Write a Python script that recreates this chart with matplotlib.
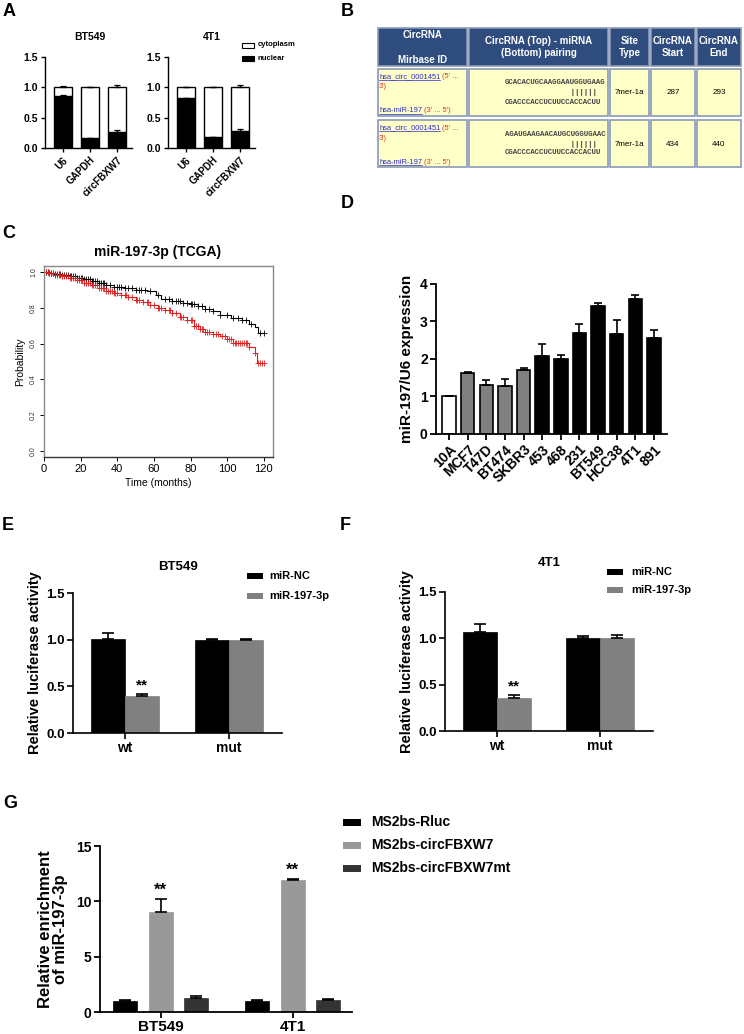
import numpy as np
import matplotlib
matplotlib.use('Agg')
import matplotlib.pyplot as plt
from matplotlib.patches import Rectangle

W, H = 744, 1034
plt.rcParams['font.family'] = ['Liberation Sans', 'DejaVu Sans']
plt.rcParams['font.weight'] = 'bold'
plt.rcParams['axes.linewidth'] = 1.2

# ---------------- data ----------------
# Panel A
A_categories = ['U6', 'GAPDH', 'circFBXW7']
A_bt549_nuclear = [0.85, 0.16, 0.26]
A_bt549_nuclear_err = [0.02, 0.01, 0.04]
A_bt549_total = [1.0, 1.0, 1.0]
A_bt549_total_err = [0.02, 0.01, 0.04]
A_4t1_nuclear = [0.82, 0.18, 0.28]
A_4t1_nuclear_err = [0.01, 0.005, 0.04]
A_4t1_total = [1.0, 1.0, 1.0]
A_4t1_total_err = [0.005, 0.005, 0.035]

# Panel B (table)
B_header = [['CircRNA', 'Mirbase ID'], ['CircRNA (Top) - miRNA', '(Bottom) pairing'],
            ['Site', 'Type'], ['CircRNA', 'Start'], ['CircRNA', 'End']]
B_circ_id = 'hsa_circ_0001451'
B_mirna_id = 'hsa-miR-197'
B_top_seq = ['GCACACUGCAAGGAAUGGUGAAG', 'AGAUGAAGAACAUGCUGGUGAAC']
B_pairs = [' ' * 15 + '||||||', ' ' * 15 + '||||||']
B_bottom_seq = ['CGACCCACCUCUUCCACCACUU', 'CGACCCACCUCUUCCACCACUU']
B_site_type = ['7mer-1a', '7mer-1a']
B_start = [287, 434]
B_end = [293, 440]

# Panel C (Kaplan-Meier)
C_low_time = [0, 3, 6, 10, 14, 18, 22, 26, 30, 34, 38, 44, 50, 56, 61, 64, 70, 76, 80, 84,
              88, 92, 96, 102, 108, 112, 115, 117]
C_low_surv = [1.0, 0.995, 0.99, 0.985, 0.975, 0.968, 0.96, 0.95, 0.94, 0.925, 0.915, 0.91,
              0.90, 0.895, 0.87, 0.85, 0.84, 0.825, 0.82, 0.81, 0.795, 0.78, 0.76, 0.745,
              0.73, 0.71, 0.69, 0.66]
C_low_censor = [1, 2, 3, 4, 5, 6, 7, 8, 9, 10, 11, 12, 13, 14, 15, 16, 17, 18, 19, 20, 21,
                22, 23, 24, 25, 26, 27, 28, 29, 30, 31, 32, 33, 34, 36, 38, 40, 41, 42, 44,
                46, 48, 50, 52, 53, 55, 58, 62, 66, 68, 70, 72, 73, 74, 76, 78, 80, 81, 82,
                84, 86, 88, 90, 92, 96, 100, 103, 106, 108, 110, 113, 118, 120]
C_high_time = [0, 3, 6, 10, 14, 18, 22, 26, 30, 34, 38, 42, 46, 50, 54, 58, 62, 66, 70, 74,
               78, 82, 85, 88, 92, 96, 100, 103, 112, 115, 116]
C_high_surv = [1.0, 0.993, 0.985, 0.975, 0.965, 0.955, 0.94, 0.925, 0.91, 0.895, 0.88, 0.87,
               0.86, 0.845, 0.83, 0.815, 0.80, 0.785, 0.77, 0.75, 0.73, 0.70, 0.68, 0.665,
               0.655, 0.645, 0.625, 0.605, 0.58, 0.55, 0.49]
C_high_censor = [1, 2, 3, 4, 5, 6, 7, 8, 9, 10, 11, 12, 13, 14, 15, 16, 17, 18, 19, 20, 21,
                 22, 23, 24, 25, 26, 27, 28, 29, 30, 31, 32, 33, 34, 35, 36, 37, 38, 39, 40,
                 42, 44, 45, 46, 48, 50, 51, 52, 54, 56, 57, 58, 60, 62, 63, 64, 66, 68, 69,
                 70, 72, 74, 75, 76, 78, 80, 81, 82, 83, 84, 85, 86, 87, 88, 89, 90, 92, 94,
                 95, 97, 99, 100, 101, 102, 103, 104, 105, 106, 107, 108, 109, 110, 111, 112,
                 115, 117, 118, 119, 120]
C_legend = ['low (n=439)', 'high (n=622)']

# Panel D
D_cells = ['10A', 'MCF7', 'T47D', 'BT474', 'SKBR3', '453', '468', '231', 'BT549', 'HCC38',
           '4T1', '891']
D_values = [1.0, 1.62, 1.30, 1.28, 1.70, 2.07, 2.00, 2.68, 3.40, 2.67, 3.60, 2.55]
D_err = [0.02, 0.02, 0.13, 0.18, 0.06, 0.33, 0.10, 0.25, 0.08, 0.36, 0.10, 0.22]
D_type = ['normal', 'luminal', 'luminal', 'luminal', 'luminal', 'tnbc', 'tnbc', 'tnbc',
          'tnbc', 'tnbc', 'tnbc', 'tnbc']

# Panels E / F
EF_groups = ['wt', 'mut']
EF_series = ['miR-NC', 'miR-197-3p']
E_nc = [1.01, 1.00]
E_nc_err = [0.06, 0.01]
E_mir = [0.40, 1.00]
E_mir_err = [0.02, 0.01]
F_nc = [1.07, 1.00]
F_nc_err = [0.08, 0.03]
F_mir = [0.36, 1.00]
F_mir_err = [0.03, 0.04]

# Panel G
G_groups = ['BT549', '4T1']
G_series = ['MS2bs-Rluc', 'MS2bs-circFBXW7', 'MS2bs-circFBXW7mt']
G_rluc = [1.0, 1.0]
G_rluc_err = [0.12, 0.07]
G_circ = [9.05, 11.9]
G_circ_err = [1.15, 0.15]
G_mt = [1.22, 1.05]
G_mt_err = [0.25, 0.15]

# ---------------- figure ----------------
fig = plt.figure(figsize=(W / 100, H / 100), dpi=100)
ov = fig.add_axes([0, 0, 1, 1], zorder=-1)
ov.set_xlim(0, W)
ov.set_ylim(H, 0)
ov.axis('off')


def axpx(x0, y0, x1, y1):
    return fig.add_axes([x0 / W, 1 - y1 / H, (x1 - x0) / W, (y1 - y0) / H])


def gp(ax, fs, lw=1.2, tl=4):
    ax.spines['top'].set_visible(False)
    ax.spines['right'].set_visible(False)
    ax.spines['left'].set_linewidth(lw)
    ax.spines['bottom'].set_linewidth(lw)
    ax.tick_params(width=lw, length=tl, labelsize=fs, pad=2)
    ax.patch.set_alpha(0)


def up_err(ax, x, top, err, cap=3, lw=1.0):
    ax.errorbar(x, top, yerr=[np.zeros(len(err)), err], fmt='none', ecolor='black',
                elinewidth=lw, capsize=cap, capthick=lw, zorder=3)


# panel letters
for lab, (x, y) in {'A': (9, 11), 'B': (347, 11), 'C': (9, 233), 'D': (347, 203),
                    'E': (8, 525), 'F': (345, 525), 'G': (10, 804)}.items():
    ov.text(x, y, lab, fontsize=13, fontweight='bold', ha='center', va='center')

# ---------------- Panel A ----------------
def panel_A(x0, nuc, nuc_err, tot, tot_err):
    ax = axpx(x0, 57, x0 + 87, 148)
    x = np.arange(len(A_categories))
    cyto = np.array(tot) - np.array(nuc)
    ax.bar(x, nuc, 0.67, color='black', edgecolor='black', lw=1)
    ax.bar(x, cyto, 0.67, bottom=nuc, color='white', edgecolor='black', lw=1)
    up_err(ax, x, nuc, nuc_err, cap=2.5, lw=0.9)
    up_err(ax, x, tot, tot_err, cap=2.5, lw=0.9)
    ax.set_xlim(-0.67, 2.55)
    ax.set_ylim(0, 1.5)
    ax.set_yticks([0, 0.5, 1.0, 1.5], ['0.0', '0.5', '1.0', '1.5'])
    ax.set_xticks(x, A_categories, rotation=45, ha='right', rotation_mode='anchor')
    gp(ax, 7.5, lw=1.0, tl=3)
    ax.tick_params(axis='x', labelsize=7)
    return ax


panel_A(45, A_bt549_nuclear, A_bt549_nuclear_err, A_bt549_total, A_bt549_total_err)
panel_A(168, A_4t1_nuclear, A_4t1_nuclear_err, A_4t1_total, A_4t1_total_err)
ov.text(90, 37, 'BT549', fontsize=7.5, fontweight='bold', ha='center', va='center')
ov.text(212, 37, '4T1', fontsize=7.5, fontweight='bold', ha='center', va='center')
ov.add_patch(Rectangle((242, 42.5), 12, 5, fc='white', ec='black', lw=0.8))
ov.add_patch(Rectangle((242, 55.5), 12, 5, fc='black', ec='black', lw=0.8))
ov.text(258, 45, 'cytoplasm', fontsize=5.5, fontweight='bold', va='center')
ov.text(258, 58, 'nuclear', fontsize=5.5, fontweight='bold', va='center')

# ---------------- Panel B (table) ----------------
tb_cols = [377, 468, 609, 650, 696, 742]
tb_rows = [(27, 67), (68, 117), (119, 168)]
hdr_col = '#2F4C7E'
cell_col = '#FFFFC8'
edge_col = '#8A9AB8'
for ri, (r0, r1) in enumerate(tb_rows):
    for ci in range(5):
        ov.add_patch(Rectangle((tb_cols[ci] + 1, r0 + 1), tb_cols[ci + 1] - tb_cols[ci] - 2,
                               r1 - r0 - 2, fc=hdr_col if ri == 0 else cell_col,
                               ec=edge_col, lw=1.2))
for ci, lines in enumerate(B_header):
    cx = (tb_cols[ci] + tb_cols[ci + 1]) / 2
    ys = (35, 60) if ci == 0 else (41, 53)
    for s, y in zip(lines, ys):
        ov.text(cx, y, s, color='white', fontsize=7, fontweight='bold', ha='center',
                va='center')

renderer = fig.canvas.get_renderer()


def link_text(x, y, s, red):
    t = ov.text(x, y, s, color='#2A2AC8', fontsize=5.4, fontweight='normal', va='center')
    bb = t.get_window_extent(renderer)
    x1 = bb.x1
    ov.plot([x, x1], [y + 3.2, y + 3.2], color='#2A2AC8', lw=0.5)
    ov.text(x1 + 2, y, red, color='#E03030', fontsize=5.4, fontweight='normal', va='center')


for i in range(2):
    r0 = tb_rows[i + 1][0]
    link_text(379, r0 + 9, B_circ_id, "(5' ...")
    ov.text(379, r0 + 19, "3')", color='#E03030', fontsize=5.4, fontweight='normal',
            va='center')
    link_text(379, r0 + 43, B_mirna_id, "(3' ... 5')")
    for s, dy in zip([B_top_seq[i], B_pairs[i], B_bottom_seq[i]], [15, 25, 34]):
        ov.text(505, r0 + dy, s, family='Liberation Mono', fontsize=5.35, color='#444444',
                fontweight='bold', va='center')
    mid = r0 + 25
    ov.text((tb_cols[2] + tb_cols[3]) / 2, mid, B_site_type[i], fontsize=5.8,
            fontweight='normal', ha='center', va='center')
    ov.text((tb_cols[3] + tb_cols[4]) / 2, mid, str(B_start[i]), fontsize=5.8,
            fontweight='normal', ha='center', va='center')
    ov.text((tb_cols[4] + tb_cols[5]) / 2, mid, str(B_end[i]), fontsize=5.8,
            fontweight='normal', ha='center', va='center')

# ---------------- Panel C (KM) ----------------
axC = axpx(44, 266, 273, 457)


def km(ax, times, surv, censor, color):
    times = np.asarray(times, float)
    surv = np.asarray(surv, float)
    tmax = max(censor)
    ax.step(np.r_[times, tmax], np.r_[surv, surv[-1]], where='post', color=color, lw=0.8)
    c = np.asarray(censor, float)
    idx = np.searchsorted(times, c, side='right') - 1
    ax.plot(c, surv[idx], '+', color=color, ms=4, mew=0.6)


km(axC, C_low_time, C_low_surv, C_low_censor, 'black')
km(axC, C_high_time, C_high_surv, C_high_censor, '#E41A1C')
axC.set_xlim(0, 125)
axC.set_ylim(-0.033, 1.033)
axC.set_xticks(np.arange(0, 121, 20))
axC.set_yticks(np.arange(0, 1.01, 0.2))
axC.set_yticklabels(['0.0', '0.2', '0.4', '0.6', '0.8', '1.0'], rotation=90, va='center',
                    fontsize=5, fontweight='normal', color='#333333')
for lbl in axC.get_xticklabels():
    lbl.set_fontweight('normal')
    lbl.set_fontsize(8)
for s in axC.spines.values():
    s.set_color('#888888')
    s.set_linewidth(1.0)
axC.spines['bottom'].set_color('#333333')
axC.tick_params(length=3, width=0.7, pad=2)
ov.text(158, 252, 'miR-197-3p (TCGA)', fontsize=10, fontweight='bold', ha='center',
        va='center')
ov.text(267, 277, 'HR = 1.56 (1.1 \u2212 2.23)', fontsize=6.3, fontweight='normal',
        ha='right', va='center')
ov.text(267, 288, 'logrank P = 0.013', fontsize=6.3, fontweight='normal', ha='right',
        va='center')
ov.text(67, 402, 'Expression', fontsize=6.5, fontweight='normal', va='center')
for lab, col, y in zip(C_legend, ['#555555', '#E41A1C'], [416, 430]):
    ov.plot([70, 88], [y, y], color=col, lw=0.8)
    ov.text(96, y, lab, fontsize=6.5, fontweight='normal', va='center')
ov.text(20, 362, 'Probability', fontsize=7.5, fontweight='normal', rotation=90,
        ha='center', va='center')
ov.text(158, 483, 'Time (months)', fontsize=7.5, fontweight='normal', ha='center',
        va='center')

# ---------------- Panel D ----------------
axD = axpx(436, 284, 667, 434)
xd = np.arange(len(D_cells))
dcol = {'normal': 'white', 'luminal': '#808080', 'tnbc': 'black'}
axD.bar(xd, D_values, 0.72, color=[dcol[t] for t in D_type], edgecolor='black', lw=1.2)
up_err(axD, xd, D_values, D_err, cap=3, lw=1.2)
axD.set_xlim(-0.7, 11.7)
axD.set_ylim(0, 4)
axD.set_yticks([0, 1, 2, 3, 4])
axD.set_xticks(xd, D_cells, rotation=45, ha='right', rotation_mode='anchor')
gp(axD, 10, lw=1.3, tl=4)
axD.set_ylabel('miR-197/U6 expression', fontsize=11, fontweight='bold', labelpad=4)

# ---------------- Panels E / F ----------------
def panel_lucif(box, nc, nc_err, mir, mir_err):
    ax = axpx(*box)
    x = np.arange(len(EF_groups))
    w = 0.33
    ax.bar(x - w / 2, nc, w, color='black', edgecolor='black', lw=0.5)
    ax.bar(x + w / 2, mir, w, color='#808080', edgecolor='#808080', lw=0.5)
    up_err(ax, x - w / 2, nc, nc_err, cap=4, lw=1.2)
    up_err(ax, x + w / 2, mir, mir_err, cap=4, lw=1.2)
    ax.text(x[0] + w / 2, mir[0] + mir_err[0] + 0.01, '**', fontsize=11, fontweight='bold',
            ha='center', va='bottom')
    ax.set_xlim(-0.5, 1.51)
    ax.set_ylim(0, 1.5)
    ax.set_yticks([0, 0.5, 1.0, 1.5], ['0.0', '0.5', '1.0', '1.5'])
    ax.set_xticks(x, EF_groups)
    gp(ax, 9.5, lw=1.2, tl=4)
    ax.tick_params(axis='x', labelsize=10)
    ax.set_ylabel('Relative luciferase activity', fontsize=10.5, fontweight='bold',
                  labelpad=3)
    return ax


panel_lucif((73, 593, 282, 733), E_nc, E_nc_err, E_mir, E_mir_err)
panel_lucif((445, 592, 653, 731), F_nc, F_nc_err, F_mir, F_mir_err)
ov.text(178, 567, 'BT549', fontsize=9.5, fontweight='bold', ha='center', va='center')
ov.text(549, 563, '4T1', fontsize=9.5, fontweight='bold', ha='center', va='center')
for (bx, tx, ys) in [(247, 269, (576, 596)), (607, 631, (572, 590))]:
    for lab, col, y in zip(EF_series, ['black', '#808080'], ys):
        ov.add_patch(Rectangle((bx, y - 3), 16, 6, fc=col, ec='none'))
        ov.text(tx, y, lab, fontsize=8, fontweight='bold', va='center')

# ---------------- Panel G ----------------
axG = axpx(100, 846, 352, 1012)
xg = np.arange(len(G_groups))
gcols = ['black', '#999999', '#333333']
gw = 0.18
for k, (vals, errs, col) in enumerate(zip([G_rluc, G_circ, G_mt],
                                          [G_rluc_err, G_circ_err, G_mt_err], gcols)):
    pos = xg + (k - 1) * 0.27
    axG.bar(pos, vals, gw, color=col, edgecolor=col, lw=0.5)
    up_err(axG, pos, vals, errs, cap=4, lw=1.2)
    if k == 1:
        for p, v, e in zip(pos, vals, errs):
            axG.text(p, v + e + 0.1, '**', fontsize=12, fontweight='bold', ha='center',
                     va='bottom')
axG.set_xlim(-0.46, 1.45)
axG.set_ylim(0, 15)
axG.set_yticks([0, 5, 10, 15])
axG.set_xticks(xg, G_groups)
gp(axG, 10, lw=1.3, tl=4)
axG.tick_params(axis='x', labelsize=11)
axG.set_ylabel('Relative enrichment\nof miR-197-3p', fontsize=12, fontweight='bold',
               labelpad=6, linespacing=1.0)
for lab, col, y in zip(G_series, gcols, [822, 845, 868]):
    ov.add_patch(Rectangle((343, y - 3.5), 18, 7, fc=col, ec='none'))
    ov.text(371, y, lab, fontsize=10, fontweight='bold', va='center')

fig.savefig('out.png', dpi=100)
